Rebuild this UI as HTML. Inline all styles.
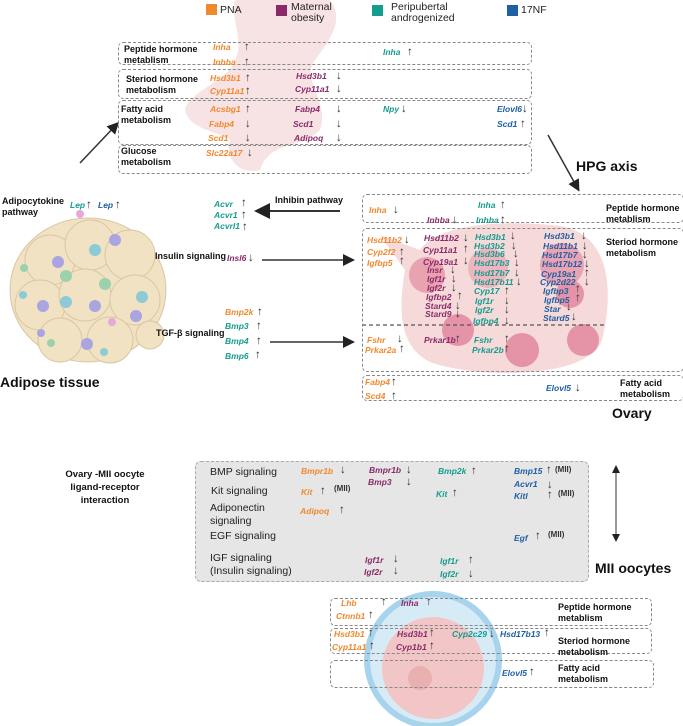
<!DOCTYPE html>
<html><head><meta charset="utf-8"><style>
body{margin:0;width:683px;height:726px;position:relative;background:#fff;font-family:"Liberation Sans",sans-serif;overflow:hidden}
div,span{position:absolute;white-space:nowrap}
.g{font-style:italic;font-weight:bold;font-size:8.5px;line-height:10px}
.o{color:#f0892d}.m{color:#8b2a6b}.t{color:#149c8e}.b{color:#1f5fa3}
.a{font-size:11.5px;font-weight:bold;color:#333;line-height:10px}
.l{font-weight:bold;font-size:9px;line-height:11px;color:#111}
.r{font-size:10.5px;line-height:13px;color:#222}
.bx{border:1.3px dashed #888;border-radius:5px}
.h{font-weight:bold;font-size:14px;color:#111}
.sq{width:11px;height:11px}
.lg{font-size:10.5px;line-height:11px;color:#222}
.s{font-size:8px}
</style></head><body>
<svg width="683" height="726" style="position:absolute;left:0;top:0">
<path d="M235 0 L330 0 C345 20 330 40 315 60 C300 80 330 100 320 130 C300 150 270 140 260 170 C240 175 225 160 230 140 C215 130 190 130 185 110 C190 90 230 80 235 60 C245 40 230 20 235 0Z" fill="#f6dcdd" opacity="0.8"/>
<path d="M380 235 L420 250 C440 222 510 220 560 226 C615 235 612 300 602 340 C590 378 480 380 430 362 C395 345 400 300 405 270Z" fill="#f6dada"/>
<circle cx="427" cy="275" r="18" fill="#e9a2b0"/><circle cx="488" cy="268" r="20" fill="#eeb5bf"/>
<circle cx="562" cy="265" r="22" fill="#eaa3b2"/><circle cx="458" cy="330" r="16" fill="#e593a6"/>
<circle cx="522" cy="350" r="17" fill="#e593a6"/><circle cx="583" cy="340" r="16" fill="#e593a6"/>
<circle cx="570" cy="294" r="14" fill="#e593a6"/>
<g fill="#f1e2c4" stroke="#d9c6a2" stroke-width="1">
<ellipse cx="88" cy="290" rx="78" ry="72"/>
<circle cx="50" cy="260" r="25"/><circle cx="90" cy="245" r="25"/><circle cx="130" cy="255" r="25"/>
<circle cx="40" cy="305" r="25"/><circle cx="85" cy="295" r="26"/><circle cx="135" cy="300" r="25"/>
<circle cx="60" cy="340" r="22"/><circle cx="110" cy="340" r="23"/><circle cx="150" cy="335" r="14"/></g>
<g><circle cx="58" cy="262" r="6" fill="#aaa4e0"/><circle cx="115" cy="240" r="6" fill="#aaa4e0"/><circle cx="80" cy="214" r="4" fill="#e6a8d8"/>
<circle cx="95" cy="250" r="6" fill="#8ccbd6"/><circle cx="66" cy="276" r="6" fill="#9bd1ac"/><circle cx="105" cy="284" r="6" fill="#9bd1ac"/>
<circle cx="66" cy="302" r="6" fill="#8ccbd6"/><circle cx="95" cy="306" r="6" fill="#aaa4e0"/><circle cx="142" cy="297" r="6" fill="#8ccbd6"/>
<circle cx="43" cy="306" r="6" fill="#aaa4e0"/><circle cx="136" cy="316" r="6" fill="#aaa4e0"/><circle cx="112" cy="322" r="4" fill="#e6a8d8"/>
<circle cx="87" cy="344" r="6" fill="#aaa4e0"/><circle cx="24" cy="268" r="4" fill="#9bd1ac"/><circle cx="23" cy="295" r="4" fill="#8ccbd6"/>
<circle cx="51" cy="343" r="4" fill="#9bd1ac"/><circle cx="104" cy="352" r="4" fill="#8ccbd6"/><circle cx="41" cy="333" r="4" fill="#aaa4e0"/></g>
<circle cx="433" cy="660" r="66" fill="#d6ebf6" stroke="#a8d3ec" stroke-width="6"/>
<circle cx="433" cy="668" r="51" fill="#f2c6c6"/>
<circle cx="420" cy="678" r="12" fill="#e9b0b0"/>
<defs><marker id="ah" markerWidth="8" markerHeight="8" refX="6" refY="4" orient="auto"><path d="M0,0 L8,4 L0,8Z" fill="#222"/></marker>
<marker id="ah2" markerWidth="8" markerHeight="8" refX="2" refY="4" orient="auto"><path d="M8,0 L0,4 L8,8Z" fill="#222"/></marker></defs>
<line x1="80" y1="163" x2="117" y2="124" stroke="#333" stroke-width="1.5" marker-end="url(#ah)"/>
<line x1="548" y1="135" x2="578" y2="189" stroke="#333" stroke-width="1.5" marker-end="url(#ah)"/>
<line x1="340" y1="211" x2="258" y2="211" stroke="#333" stroke-width="2" marker-end="url(#ah)"/>
<line x1="262" y1="260" x2="352" y2="260" stroke="#333" stroke-width="1.5" marker-end="url(#ah)"/>
<line x1="270" y1="342" x2="352" y2="342" stroke="#333" stroke-width="1.5" marker-end="url(#ah)"/>
<line x1="616" y1="467" x2="616" y2="540" stroke="#333" stroke-width="1" marker-end="url(#ah)" marker-start="url(#ah2)"/>
<line x1="362" y1="325" x2="604" y2="325" stroke="#555" stroke-width="1.2" stroke-dasharray="4,3"/>
</svg>
<div class="sq" style="left:206px;top:4px;background:#f0892d"></div><div class="lg" style="left:220px;top:5px">PNA</div>
<div class="sq" style="left:276px;top:5px;background:#8b2a6b"></div><div class="lg" style="left:291px;top:2px">Maternal<br>obesity</div>
<div class="sq" style="left:372px;top:5px;background:#149c8e"></div><div class="lg" style="left:391px;top:2px">Peripubertal<br>androgenized</div>
<div class="sq" style="left:507px;top:5px;background:#1f5fa3"></div><div class="lg" style="left:521px;top:5px">17NF</div>
<div class="bx" style="left:118px;top:42px;width:412px;height:21px"></div>
<div class="bx" style="left:118px;top:69px;width:412px;height:28px"></div>
<div class="bx" style="left:118px;top:100px;width:412px;height:43px"></div>
<div class="bx" style="left:118px;top:145px;width:412px;height:27px"></div>
<div class="l" style="left:124px;top:44px">Peptide hormone<br>metablism</div>
<div class="l" style="left:126px;top:74px">Steriod hormone<br>metabolism</div>
<div class="l" style="left:121px;top:104px">Fatty acid<br>metabolism</div>
<div class="l" style="left:121px;top:146px">Glucose<br>metabolism</div>
<span class="g o" style="left:213px;top:42px">Inha</span><span class="a" style="left:244px;top:42px">↑</span>
<span class="g o" style="left:213px;top:57px">Inhba</span><span class="a" style="left:244px;top:57px">↑</span>
<span class="g t" style="left:383px;top:47px">Inha</span><span class="a" style="left:407px;top:47px">↑</span>
<span class="g o" style="left:210px;top:73px">Hsd3b1</span><span class="a" style="left:245px;top:73px">↑</span>
<span class="g o" style="left:210px;top:86px">Cyp11a1</span><span class="a" style="left:245px;top:86px">↑</span>
<span class="g m" style="left:296px;top:71px">Hsd3b1</span><span class="a" style="left:336px;top:71px">↓</span>
<span class="g m" style="left:295px;top:84px">Cyp11a1</span><span class="a" style="left:336px;top:84px">↓</span>
<span class="g o" style="left:210px;top:104px">Acsbg1</span><span class="a" style="left:245px;top:104px">↑</span>
<span class="g o" style="left:209px;top:119px">Fabp4</span><span class="a" style="left:245px;top:119px">↓</span>
<span class="g o" style="left:208px;top:133px">Scd1</span><span class="a" style="left:245px;top:133px">↓</span>
<span class="g m" style="left:295px;top:104px">Fabp4</span><span class="a" style="left:336px;top:104px">↓</span>
<span class="g m" style="left:293px;top:119px">Scd1</span><span class="a" style="left:336px;top:119px">↓</span>
<span class="g m" style="left:294px;top:133px">Adipoq</span><span class="a" style="left:336px;top:133px">↓</span>
<span class="g t" style="left:383px;top:104px">Npy</span><span class="a" style="left:401px;top:104px">↓</span>
<span class="g b" style="left:497px;top:104px">Elovl6</span><span class="a" style="left:522px;top:104px">↓</span>
<span class="g b" style="left:497px;top:119px">Scd1</span><span class="a" style="left:520px;top:119px">↑</span>
<span class="g o" style="left:206px;top:148px">Slc22a17</span><span class="a" style="left:247px;top:148px">↓</span>
<div class="l" style="left:2px;top:196px">Adipocytokine<br>pathway</div>
<span class="g t" style="left:70px;top:200px">Lep</span><span class="a" style="left:86px;top:200px">↑</span>
<span class="g b" style="left:98px;top:200px">Lep</span><span class="a" style="left:115px;top:200px">↑</span>
<div class="h" style="left:0;top:374px">Adipose tissue</div>
<span class="g t" style="left:214px;top:199px">Acvr</span><span class="a" style="left:241px;top:198px">↑</span>
<span class="g t" style="left:214px;top:210px">Acvr1</span><span class="a" style="left:241px;top:210px">↑</span>
<span class="g t" style="left:214px;top:221px">Acvrl1</span><span class="a" style="left:242px;top:222px">↑</span>
<div class="l" style="left:275px;top:195px">Inhibin pathway</div>
<div class="l" style="left:155px;top:251px">Insulin signaling</div>
<span class="g m" style="left:227px;top:253px">Insl6</span><span class="a" style="left:248px;top:253px">↓</span>
<div class="l" style="left:156px;top:328px">TGF-β signaling</div>
<span class="g o" style="left:225px;top:307px">Bmp2k</span><span class="a" style="left:257px;top:307px">↑</span>
<span class="g t" style="left:225px;top:321px">Bmp3</span><span class="a" style="left:256px;top:321px">↑</span>
<span class="g t" style="left:225px;top:336px">Bmp4</span><span class="a" style="left:256px;top:336px">↑</span>
<span class="g t" style="left:225px;top:351px">Bmp6</span><span class="a" style="left:255px;top:350px">↑</span>
<div class="h" style="left:576px;top:158px">HPG axis</div>
<div class="bx" style="left:362px;top:194px;width:320px;height:27px"></div>
<div class="bx" style="left:362px;top:228px;width:320px;height:142px"></div>
<div class="bx" style="left:362px;top:375px;width:320px;height:24px"></div>
<div class="l" style="left:606px;top:203px">Peptide hormone<br>metablism</div>
<div class="l" style="left:606px;top:237px">Steriod hormone<br>metabolism</div>
<div class="l" style="left:620px;top:378px">Fatty acid<br>metabolism</div>
<span class="g o" style="left:369px;top:205px">Inha</span><span class="a" style="left:393px;top:205px">↓</span>
<span class="g m" style="left:427px;top:215px">Inhba</span><span class="a" style="left:452px;top:215px">↓</span>
<span class="g t" style="left:478px;top:200px">Inha</span><span class="a" style="left:500px;top:200px">↑</span>
<span class="g t" style="left:476px;top:215px">Inhba</span><span class="a" style="left:500px;top:215px">↑</span>
<span class="g o" style="left:367px;top:235px">Hsd11b2</span><span class="a" style="left:404px;top:235px">↓</span>
<span class="g o" style="left:367px;top:247px">Cyp2f2</span><span class="a" style="left:399px;top:247px">↑</span>
<span class="g o" style="left:367px;top:258px">Igfbp5</span><span class="a" style="left:399px;top:256px">↑</span>
<span class="g m" style="left:424px;top:233px">Hsd11b2</span><span class="a" style="left:463px;top:233px">↓</span>
<span class="g m" style="left:423px;top:245px">Cyp11a1</span><span class="a" style="left:463px;top:244px">↑</span>
<span class="g m" style="left:423px;top:257px">Cyp19a1</span><span class="a" style="left:463px;top:256px">↓</span>
<span class="g m" style="left:427px;top:265px">Insr</span><span class="a" style="left:450px;top:265px">↓</span>
<span class="g m" style="left:427px;top:274px">Igf1r</span><span class="a" style="left:451px;top:274px">↓</span>
<span class="g m" style="left:427px;top:283px">Igf2r</span><span class="a" style="left:451px;top:283px">↓</span>
<span class="g m" style="left:426px;top:292px">Igfbp2</span><span class="a" style="left:457px;top:291px">↑</span>
<span class="g m" style="left:425px;top:301px">Stard4</span><span class="a" style="left:455px;top:301px">↓</span>
<span class="g m" style="left:425px;top:309px">Stard9</span><span class="a" style="left:455px;top:309px">↓</span>
<span class="g t" style="left:475px;top:232px">Hsd3b1</span><span class="a" style="left:510px;top:231px">↓</span>
<span class="g t" style="left:474px;top:241px">Hsd3b2</span><span class="a" style="left:511px;top:241px">↓</span>
<span class="g t" style="left:474px;top:249px">Hsd3b6</span><span class="a" style="left:513px;top:249px">↓</span>
<span class="g t" style="left:474px;top:258px">Hsd17b3</span><span class="a" style="left:514px;top:258px">↓</span>
<span class="g t" style="left:474px;top:268px">Hsd17b7</span><span class="a" style="left:514px;top:268px">↓</span>
<span class="g t" style="left:474px;top:277px">Hsd17b11</span><span class="a" style="left:516px;top:277px">↓</span>
<span class="g t" style="left:474px;top:286px">Cyp17</span><span class="a" style="left:504px;top:286px">↑</span>
<span class="g t" style="left:475px;top:296px">Igf1r</span><span class="a" style="left:504px;top:296px">↓</span>
<span class="g t" style="left:475px;top:305px">Igf2r</span><span class="a" style="left:504px;top:305px">↓</span>
<span class="g t" style="left:473px;top:316px">Igfbp4</span><span class="a" style="left:504px;top:316px">↓</span>
<span class="g b" style="left:544px;top:231px">Hsd3b1</span><span class="a" style="left:581px;top:231px">↓</span>
<span class="g b" style="left:543px;top:241px">Hsd11b1</span><span class="a" style="left:582px;top:241px">↓</span>
<span class="g b" style="left:542px;top:250px">Hsd17b7</span><span class="a" style="left:582px;top:250px">↓</span>
<span class="g b" style="left:542px;top:259px">Hsd17b12</span><span class="a" style="left:584px;top:259px">↓</span>
<span class="g b" style="left:541px;top:269px">Cyp19a1</span><span class="a" style="left:584px;top:268px">↑</span>
<span class="g b" style="left:540px;top:277px">Cyp2d22</span><span class="a" style="left:584px;top:277px">↓</span>
<span class="g b" style="left:543px;top:286px">Igfbp3</span><span class="a" style="left:575px;top:284px">↑</span>
<span class="g b" style="left:544px;top:295px">Igfbp5</span><span class="a" style="left:575px;top:293px">↑</span>
<span class="g b" style="left:544px;top:304px">Star</span><span class="a" style="left:566px;top:302px">↓</span>
<span class="g b" style="left:543px;top:313px">Stard5</span><span class="a" style="left:571px;top:312px">↓</span>
<span class="g o" style="left:367px;top:335px">Fshr</span><span class="a" style="left:397px;top:334px">↓</span>
<span class="g o" style="left:365px;top:345px">Prkar2a</span><span class="a" style="left:399px;top:344px">↑</span>
<span class="g m" style="left:424px;top:335px">Prkar1b</span><span class="a" style="left:455px;top:334px">↑</span>
<span class="g t" style="left:474px;top:335px">Fshr</span><span class="a" style="left:504px;top:334px">↑</span>
<span class="g t" style="left:472px;top:345px">Prkar2b</span><span class="a" style="left:504px;top:344px">↑</span>
<span class="g o" style="left:365px;top:377px">Fabp4</span><span class="a" style="left:391px;top:377px">↑</span>
<span class="g o" style="left:365px;top:391px">Scd4</span><span class="a" style="left:391px;top:391px">↑</span>
<span class="g b" style="left:546px;top:383px">Elovl5</span><span class="a" style="left:575px;top:383px">↓</span>
<div class="h" style="left:612px;top:405px">Ovary</div>
<div class="h" style="left:595px;top:560px">MII oocytes</div>
<div class="l" style="left:30px;top:468px;width:150px;text-align:center;font-size:9.5px;line-height:13px">Ovary -MII oocyte<br>ligand-receptor<br>interaction</div>
<div style="left:195px;top:461px;width:392px;height:119px;background:#e6e6e6;border:1.3px dashed #aaa;border-radius:6px"></div>
<div class="r" style="left:210px;top:466px">BMP signaling</div>
<div class="r" style="left:211px;top:485px">Kit signaling</div>
<div class="r" style="left:210px;top:502px">Adiponectin<br>signaling</div>
<div class="r" style="left:210px;top:530px">EGF signaling</div>
<div class="r" style="left:210px;top:552px">IGF signaling<br>(Insulin signaling)</div>
<span class="g o" style="left:301px;top:466px">Bmpr1b</span><span class="a" style="left:340px;top:465px">↓</span>
<span class="g o" style="left:301px;top:487px">Kit</span><span class="a" style="left:320px;top:486px">↑</span>
<span class="a s" style="left:334px;top:484px">(MII)</span>
<span class="g o" style="left:300px;top:506px">Adipoq</span><span class="a" style="left:339px;top:505px">↑</span>
<span class="g m" style="left:369px;top:465px">Bmpr1b</span><span class="a" style="left:406px;top:465px">↓</span>
<span class="g m" style="left:368px;top:477px">Bmp3</span><span class="a" style="left:406px;top:477px">↓</span>
<span class="g t" style="left:438px;top:466px">Bmp2k</span><span class="a" style="left:471px;top:466px">↑</span>
<span class="g t" style="left:436px;top:489px">Kit</span><span class="a" style="left:452px;top:488px">↑</span>
<span class="g b" style="left:514px;top:466px">Bmp15</span><span class="a" style="left:546px;top:465px">↑</span><span class="a s" style="left:555px;top:465px">(MII)</span>
<span class="g b" style="left:514px;top:479px">Acvr1</span><span class="a" style="left:547px;top:480px">↓</span>
<span class="g b" style="left:514px;top:491px">Kitl</span><span class="a" style="left:547px;top:490px">↑</span><span class="a s" style="left:558px;top:489px">(MII)</span>
<span class="g b" style="left:514px;top:533px">Egf</span><span class="a" style="left:535px;top:531px">↑</span><span class="a s" style="left:548px;top:530px">(MII)</span>
<span class="g m" style="left:365px;top:555px">Igf1r</span><span class="a" style="left:393px;top:554px">↓</span>
<span class="g m" style="left:364px;top:567px">Igf2r</span><span class="a" style="left:393px;top:566px">↓</span>
<span class="g t" style="left:440px;top:556px">Igf1r</span><span class="a" style="left:468px;top:555px">↑</span>
<span class="g t" style="left:440px;top:569px">Igf2r</span><span class="a" style="left:468px;top:569px">↓</span>
<div class="bx" style="left:330px;top:598px;width:320px;height:26px"></div>
<div class="bx" style="left:330px;top:628px;width:320px;height:24px"></div>
<div class="bx" style="left:330px;top:660px;width:322px;height:26px"></div>
<div class="l" style="left:558px;top:602px">Peptide hormone<br>metablism</div>
<div class="l" style="left:558px;top:636px">Steriod hormone<br>metabolism</div>
<div class="l" style="left:558px;top:663px">Fatty acid<br>metabolism</div>
<span class="g o" style="left:341px;top:598px">Lhb</span><span class="a" style="left:381px;top:597px">↑</span>
<span class="g o" style="left:336px;top:611px">Ctnnb1</span><span class="a" style="left:368px;top:610px">↑</span>
<span class="g m" style="left:401px;top:598px">Inha</span><span class="a" style="left:426px;top:597px">↑</span>
<span class="g o" style="left:334px;top:629px">Hsd3b1</span><span class="a" style="left:368px;top:628px">↑</span>
<span class="g o" style="left:332px;top:642px">Cyp11a1</span><span class="a" style="left:369px;top:641px">↑</span>
<span class="g m" style="left:397px;top:629px">Hsd3b1</span><span class="a" style="left:429px;top:628px">↑</span>
<span class="g m" style="left:396px;top:642px">Cyp1b1</span><span class="a" style="left:429px;top:641px">↑</span>
<span class="g t" style="left:452px;top:629px">Cyp2c29</span><span class="a" style="left:489px;top:629px">↓</span>
<span class="g b" style="left:500px;top:629px">Hsd17b13</span><span class="a" style="left:544px;top:628px">↑</span>
<span class="g b" style="left:502px;top:668px">Elovl5</span><span class="a" style="left:529px;top:667px">↑</span>
</body></html>
